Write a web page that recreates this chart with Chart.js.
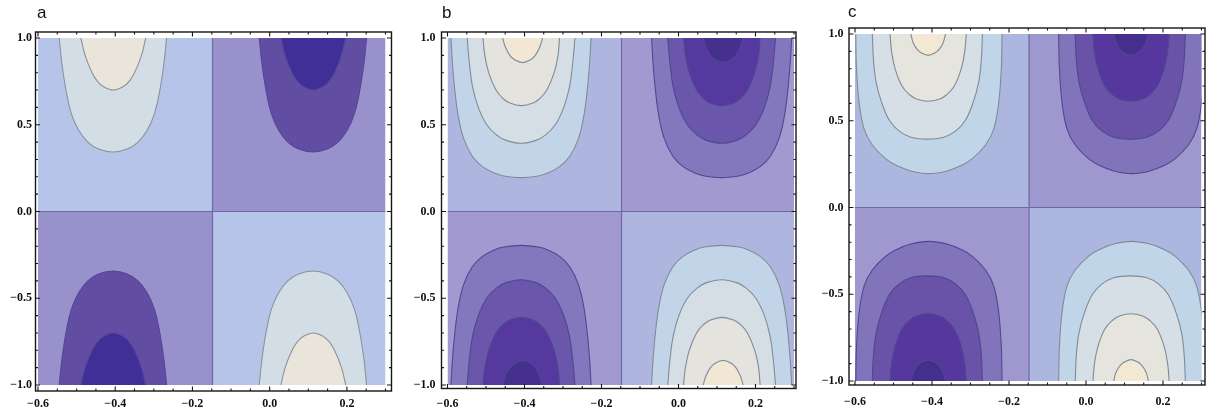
<!DOCTYPE html>
<html>
<head>
<meta charset="utf-8">
<script src="https://cdn.jsdelivr.net/npm/chart.js@4.4.1/dist/chart.umd.min.js"></script>
<style>
  html, body { margin: 0; padding: 0; background: #fff; width: 1209px; height: 416px; overflow: hidden; position: relative; }
  canvas { position: absolute; top: 0; }
  .lbl { position: absolute; font-family: "Liberation Sans", Arial, sans-serif; font-size: 17px; line-height: 17px; color: #111; }
</style>
</head>
<body>
<script>
// ---------- axes / ticks ----------
const xRange = [-0.6, 0.3];
const yRange = [-1, 1];
const xTickValues = [-0.6, -0.4, -0.2, 0, 0.2];
const xTickLabels = ['\u22120.6', '\u22120.4', '\u22120.2', '0.0', '0.2'];
const yTickValues = [-1, -0.5, 0, 0.5, 1];
const yTickLabels = ['\u22121.0', '\u22120.5', '0.0', '0.5', '1.0'];
const xMinorTicks = [-0.55, -0.5, -0.45, -0.35, -0.3, -0.25, -0.15, -0.1, -0.05, 0.05, 0.1, 0.15, 0.25, 0.3];
const yMinorTicks = [-0.9, -0.8, -0.7, -0.6, -0.4, -0.3, -0.2, -0.1, 0.1, 0.2, 0.3, 0.4, 0.6, 0.7, 0.8, 0.9];
const panelLabels = ['a', 'b', 'c'];

// zero contours (nodal lines)
const zeroX = -0.148;
const zeroY = 0;

// ---------- contour lines (upper half, y > 0); lower half is the mirror image ----------
// panel a : hub around x = -0.406 (positive on top) and x = 0.112 (negative on top)
const aLeftContours = [
  [[-0.545,1],[-0.538,0.85],[-0.526,0.68],[-0.513,0.56],[-0.495,0.47],[-0.471,0.40],[-0.443,0.36],[-0.406,0.343],[-0.369,0.36],[-0.341,0.40],[-0.317,0.47],[-0.299,0.56],[-0.286,0.68],[-0.274,0.85],[-0.267,1]],
  [[-0.489,1],[-0.478,0.9],[-0.46,0.8],[-0.446,0.75],[-0.431,0.72],[-0.405,0.70],[-0.379,0.72],[-0.364,0.75],[-0.35,0.8],[-0.332,0.9],[-0.321,1]]
];
const aRightContours = [
  [[-0.027,1],[-0.02,0.85],[-0.008,0.68],[0.005,0.56],[0.023,0.47],[0.047,0.40],[0.075,0.36],[0.112,0.343],[0.149,0.36],[0.177,0.40],[0.201,0.47],[0.219,0.56],[0.232,0.68],[0.244,0.85],[0.251,1]],
  [[0.029,1],[0.04,0.9],[0.058,0.8],[0.072,0.75],[0.087,0.72],[0.113,0.70],[0.139,0.72],[0.154,0.75],[0.168,0.8],[0.186,0.9],[0.197,1]]
];
// panel b
const bLeftContours = [
  [[-0.591,1],[-0.587,0.85],[-0.581,0.7],[-0.572,0.55],[-0.558,0.42],[-0.536,0.32],[-0.51,0.26],[-0.477,0.22],[-0.454,0.205],[-0.409,0.195],[-0.364,0.205],[-0.341,0.22],[-0.308,0.26],[-0.282,0.32],[-0.26,0.42],[-0.246,0.55],[-0.237,0.7],[-0.231,0.85],[-0.227,1]],
  [[-0.549,1],[-0.543,0.85],[-0.535,0.72],[-0.52,0.6],[-0.498,0.5],[-0.472,0.44],[-0.448,0.41],[-0.409,0.393],[-0.37,0.41],[-0.346,0.44],[-0.32,0.5],[-0.298,0.6],[-0.283,0.72],[-0.275,0.85],[-0.269,1]],
  [[-0.508,1],[-0.503,0.9],[-0.493,0.8],[-0.474,0.7],[-0.455,0.65],[-0.438,0.625],[-0.408,0.61],[-0.378,0.625],[-0.361,0.65],[-0.342,0.7],[-0.323,0.8],[-0.313,0.9],[-0.309,1]],
  [[-0.457,1],[-0.45,0.95],[-0.438,0.9],[-0.426,0.875],[-0.405,0.858],[-0.384,0.875],[-0.372,0.9],[-0.36,0.95],[-0.353,1]]
];
const bRightContours = [
  [[-0.07,1],[-0.066,0.85],[-0.06,0.7],[-0.051,0.55],[-0.037,0.42],[-0.015,0.32],[0.011,0.26],[0.044,0.22],[0.067,0.205],[0.112,0.195],[0.157,0.205],[0.18,0.22],[0.213,0.26],[0.239,0.32],[0.261,0.42],[0.275,0.55],[0.284,0.7],[0.29,0.85],[0.294,1]],
  [[-0.028,1],[-0.022,0.85],[-0.014,0.72],[0.001,0.6],[0.023,0.5],[0.049,0.44],[0.073,0.41],[0.112,0.393],[0.151,0.41],[0.175,0.44],[0.201,0.5],[0.223,0.6],[0.238,0.72],[0.246,0.85],[0.252,1]],
  [[0.013,1],[0.018,0.9],[0.028,0.8],[0.047,0.7],[0.066,0.65],[0.083,0.625],[0.113,0.61],[0.143,0.625],[0.16,0.65],[0.179,0.7],[0.198,0.8],[0.208,0.9],[0.212,1]],
  [[0.064,1],[0.071,0.95],[0.083,0.9],[0.095,0.875],[0.116,0.858],[0.137,0.875],[0.149,0.9],[0.161,0.95],[0.168,1]]
];
// panel c
const cLeftContours = [
  [[-0.598,1],[-0.596,0.8],[-0.589,0.6],[-0.576,0.45],[-0.555,0.36],[-0.52,0.28],[-0.49,0.24],[-0.455,0.21],[-0.408,0.195],[-0.361,0.21],[-0.326,0.24],[-0.296,0.28],[-0.261,0.36],[-0.24,0.45],[-0.227,0.6],[-0.22,0.8],[-0.218,1]],
  [[-0.555,1],[-0.552,0.85],[-0.545,0.72],[-0.53,0.6],[-0.51,0.5],[-0.485,0.44],[-0.455,0.405],[-0.412,0.394],[-0.369,0.405],[-0.339,0.44],[-0.314,0.5],[-0.294,0.6],[-0.279,0.72],[-0.272,0.85],[-0.269,1]],
  [[-0.509,1],[-0.505,0.9],[-0.496,0.8],[-0.478,0.7],[-0.458,0.65],[-0.44,0.625],[-0.41,0.612],[-0.38,0.625],[-0.362,0.65],[-0.342,0.7],[-0.324,0.8],[-0.315,0.9],[-0.311,1]],
  [[-0.455,1],[-0.449,0.95],[-0.438,0.91],[-0.425,0.888],[-0.41,0.877],[-0.395,0.888],[-0.382,0.91],[-0.371,0.95],[-0.365,1]]
];
const cRightContours = [
  [[-0.071,1],[-0.069,0.8],[-0.062,0.6],[-0.049,0.45],[-0.028,0.36],[0.007,0.28],[0.037,0.24],[0.072,0.21],[0.119,0.195],[0.166,0.21],[0.201,0.24],[0.231,0.28],[0.266,0.36],[0.287,0.45],[0.3,0.6],[0.307,0.8],[0.309,1]],
  [[-0.028,1],[-0.025,0.85],[-0.018,0.72],[-0.003,0.6],[0.017,0.5],[0.042,0.44],[0.072,0.405],[0.115,0.394],[0.158,0.405],[0.188,0.44],[0.213,0.5],[0.233,0.6],[0.248,0.72],[0.255,0.85],[0.258,1]],
  [[0.018,1],[0.022,0.9],[0.031,0.8],[0.049,0.7],[0.069,0.65],[0.087,0.625],[0.117,0.612],[0.147,0.625],[0.165,0.65],[0.185,0.7],[0.203,0.8],[0.212,0.9],[0.216,1]],
  [[0.072,1],[0.078,0.95],[0.089,0.91],[0.102,0.888],[0.117,0.877],[0.132,0.888],[0.145,0.91],[0.156,0.95],[0.162,1]]
];

// ---------- styling ----------
const panels = [
  { label: 'a', left: 0, width: 400, pad: { left: 0, top: 38, right: 14.5, bottom: 0 }, yAxisW: 38, xAxisH: 31,
    frameGap: [2.5, 6, 6, 6], yPad: 6, xPad: 12, labelPos: [37, 4],
    leftC: aLeftContours, rightC: aRightContours,
    light: ['#b5c4e8', '#d3dde6', '#eae5da'], dark: ['#9891cc', '#614ea3', '#3f2f97'],
    lightLine: '#8a929c', darkLine: '#55479a' },
  { label: 'b', left: 400, width: 400, pad: { left: 0, top: 38, right: 6, bottom: 0 }, yAxisW: 47.5, xAxisH: 31,
    frameGap: [6, 6, 2, 3.5], yPad: 12, xPad: 12, labelPos: [442, 4],
    leftC: bLeftContours, rightC: bRightContours,
    light: ['#aeb6df', '#c2d5e8', '#d5dee5', '#e4e3dd', '#f1e7d4'], dark: ['#a199d0', '#8377bd', '#6a56ab', '#56399f', '#45308e'],
    lightLine: '#7f8b98', darkLine: '#4f4890' },
  { label: 'c', left: 805, width: 404, pad: { left: 0, top: 34, right: 7.5, bottom: 0 }, yAxisW: 50, xAxisH: 35,
    frameGap: [6, 6, 3.5, 4], yPad: 11.5, xPad: 14, labelPos: [848, 3],
    leftC: cLeftContours, rightC: cRightContours,
    light: ['#acb6de', '#c1d5e8', '#d6dfe5', '#e5e4dd', '#f2e8d4'], dark: ['#9f98cf', '#8174bb', '#6853a9', '#55379d', '#44308c'],
    lightLine: '#7f8b98', darkLine: '#4f4890' }
];

const tickFont = { family: '"Liberation Serif", "Times New Roman", serif', size: 12, weight: 'bold' };

const framePlugin = {
  id: 'frame',
  afterDraw(chart, args, opts) {
    const { ctx, chartArea: ca, scales } = chart;
    const xs = scales.x, ys = scales.y;
    const [gl, gt, gr, gb] = opts.gap;
    const L = ca.left - gl, T = ca.top - gt, R = ca.right + gr, B = ca.bottom + gb;
    ctx.save();
    ctx.strokeStyle = '#161616';
    ctx.lineWidth = 1.1;
    const major = 4.5, minor = 2.5;
    ctx.beginPath();
    const xt = (v, len) => { const p = xs.getPixelForValue(v); ctx.moveTo(p, B); ctx.lineTo(p, B - len); ctx.moveTo(p, T); ctx.lineTo(p, T + len); };
    const yt = (v, len) => { const p = ys.getPixelForValue(v); ctx.moveTo(L, p); ctx.lineTo(L + len, p); ctx.moveTo(R, p); ctx.lineTo(R - len, p); };
    xTickValues.forEach(v => xt(v, major));
    xMinorTicks.forEach(v => xt(v, minor));
    yTickValues.forEach(v => yt(v, major));
    yMinorTicks.forEach(v => yt(v, minor));
    ctx.stroke();
    ctx.lineWidth = 1.4;
    ctx.strokeRect(L, T, R - L, B - T);
    ctx.restore();
  }
};

function rectSet(x0, x1, y0, y1, color) {
  return { data: [{ x: x0, y: y0 }, { x: x0, y: y1 }, { x: x1, y: y1 }, { x: x1, y: y0 }],
    fill: 'shape', backgroundColor: color, borderWidth: 0, tension: 0, pointRadius: 0 };
}
function contourSet(pts, sign, fillColor, lineColor) {
  const data = pts.map(p => ({ x: p[0], y: sign * p[1] })).reverse();
  return { data, fill: 'shape', backgroundColor: fillColor, borderColor: lineColor, borderWidth: 1.1,
    tension: 0.4, pointRadius: 0 };
}

panels.forEach(P => {
  const canvas = document.createElement('canvas');
  canvas.width = P.width; canvas.height = 416;
  canvas.style.left = P.left + 'px';
  canvas.style.width = P.width + 'px'; canvas.style.height = '416px';
  document.body.appendChild(canvas);

  const lab = document.createElement('div');
  lab.className = 'lbl';
  lab.textContent = P.label;
  lab.style.left = P.labelPos[0] + 'px';
  lab.style.top = P.labelPos[1] + 'px';
  document.body.appendChild(lab);

  const ds = [];
  // quadrant backgrounds
  ds.push(rectSet(xRange[0], zeroX, zeroY, yRange[1], P.light[0]));
  ds.push(rectSet(zeroX, xRange[1], zeroY, yRange[1], P.dark[0]));
  ds.push(rectSet(xRange[0], zeroX, yRange[0], zeroY, P.dark[0]));
  ds.push(rectSet(zeroX, xRange[1], yRange[0], zeroY, P.light[0]));
  // nested contour bands
  P.leftC.forEach((c, i) => ds.push(contourSet(c, 1, P.light[i + 1], P.lightLine)));
  P.rightC.forEach((c, i) => ds.push(contourSet(c, 1, P.dark[i + 1], P.darkLine)));
  P.leftC.forEach((c, i) => ds.push(contourSet(c, -1, P.dark[i + 1], P.darkLine)));
  P.rightC.forEach((c, i) => ds.push(contourSet(c, -1, P.light[i + 1], P.lightLine)));
  // nodal lines
  ds.push({ data: [{ x: zeroX, y: yRange[0] }, { x: zeroX, y: yRange[1] }], borderColor: '#6c69a6', borderWidth: 1.2, fill: false, pointRadius: 0, tension: 0 });
  ds.push({ data: [{ x: xRange[0], y: zeroY }, { x: xRange[1], y: zeroY }], borderColor: '#6c69a6', borderWidth: 1.2, fill: false, pointRadius: 0, tension: 0 });
  ds.forEach((d, i) => { d.order = ds.length - i; });

  new Chart(canvas, {
    type: 'line',
    data: { datasets: ds },
    plugins: [framePlugin],
    options: {
      responsive: false,
      animation: false,
      events: [],
      layout: { padding: P.pad },
      plugins: { legend: { display: false }, tooltip: { enabled: false }, frame: { gap: P.frameGap } },
      scales: {
        x: {
          type: 'linear', min: xRange[0], max: xRange[1],
          afterBuildTicks: s => { s.ticks = xTickValues.map(v => ({ value: v })); },
          afterFit: s => { s.height = P.xAxisH; },
          grid: { display: false, drawTicks: false }, border: { display: false },
          ticks: { font: tickFont, color: '#111', padding: P.xPad, maxRotation: 0, autoSkip: false,
            callback: (v, i) => xTickLabels[i] }
        },
        y: {
          type: 'linear', min: yRange[0], max: yRange[1],
          afterBuildTicks: s => { s.ticks = yTickValues.map(v => ({ value: v })); },
          afterFit: s => { s.width = P.yAxisW; },
          grid: { display: false, drawTicks: false }, border: { display: false },
          ticks: { font: tickFont, color: '#111', padding: P.yPad, autoSkip: false,
            callback: (v, i) => yTickLabels[i] }
        }
      }
    }
  });
});
</script>
</body>
</html>
